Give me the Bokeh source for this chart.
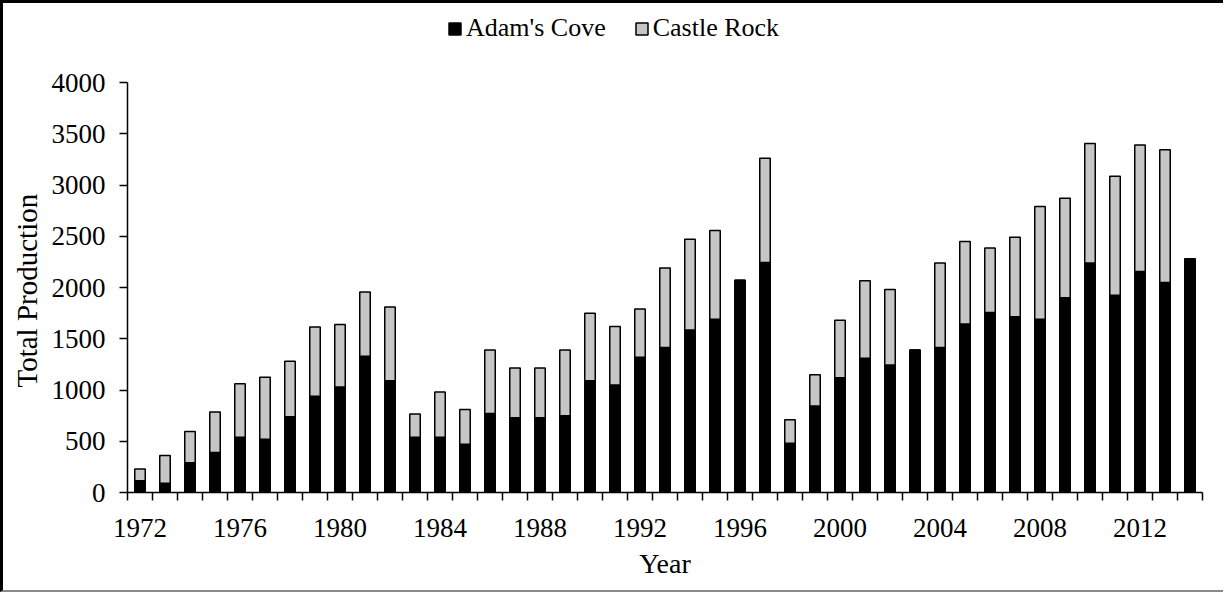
from bokeh.plotting import figure
from bokeh.models import ColumnDataSource, Range1d, FixedTicker, Legend, LegendItem, Title
from bokeh.embed import file_html
from bokeh.resources import INLINE

years = list(range(1972, 2015))
adams_cove = [115, 90, 290, 390, 540, 520, 740, 940, 1030, 1330, 1090,
              540, 540, 470, 770, 730, 730, 750, 1090, 1050, 1320,
              1415, 1585, 1690, 2070, 2245, 480, 845, 1120, 1310, 1245,
              1390, 1415, 1645, 1755, 1715, 1690, 1900, 2240, 1925, 2155, 2050, 2280]
castle_rock = [115, 270, 305, 395, 520, 605, 540, 675, 610, 625, 720,
               225, 440, 340, 620, 485, 485, 640, 660, 570, 470,
               775, 885, 865, 0, 1015, 230, 305, 560, 755, 735,
               0, 825, 805, 630, 775, 1100, 970, 1165, 1160, 1235, 1295, 0]
series_names = ["Adam's Cove", "Castle Rock"]
series_colors = ["#000000", "#c6c6c6"]
label_years = [1972, 1976, 1980, 1984, 1988, 1992, 1996, 2000, 2004, 2008, 2012]
y_ticks = [0, 500, 1000, 1500, 2000, 2500, 3000, 3500, 4000]

FONT = "Liberation Serif"

# layout: frame extends up to hold the legend; axis drawn only 0..4000
MB_TOP, MB_BOTTOM, H = 7, 103, 592
frame_h = H - MB_TOP - MB_BOTTOM
y_end = 4000 * frame_h / 410.0

source = ColumnDataSource(data=dict(year=years, adams=adams_cove, castle=castle_rock))

p = figure(width=1223, height=H, output_backend="svg", toolbar_location=None,
           x_range=Range1d(years[0] - 0.5, years[-1] + 0.5), y_range=Range1d(0, y_end),
           min_border_left=124, min_border_right=24, min_border_top=MB_TOP, min_border_bottom=MB_BOTTOM,
           background_fill_color="white", border_fill_color="white",
           styles={"border-left": "3px solid black", "border-top": "3px solid black",
                   "border-bottom": "2px solid #8a8a8a", "box-sizing": "border-box"})
p.outline_line_color = None
p.xgrid.visible = False
p.ygrid.visible = False

rs = p.vbar_stack(["adams", "castle"], x="year", width=0.42, source=source,
                  fill_color=series_colors, line_color="black", line_width=1.5)

legend = Legend(items=[LegendItem(label=series_names[0], renderers=[rs[0]]),
                       LegendItem(label=series_names[1], renderers=[rs[1]])],
                orientation="horizontal", location=(320, 449))
legend.glyph_width = 15
legend.glyph_height = 15
legend.label_text_font = FONT
legend.label_text_font_size = "26px"
legend.label_text_color = "black"
legend.label_standoff = 4
legend.spacing = 28
legend.padding = 0
legend.margin = 0
legend.border_line_color = None
legend.background_fill_alpha = 0
p.add_layout(legend, "center")

xa = p.xaxis[0]
xa.ticker = FixedTicker(ticks=label_years, minor_ticks=[y - 0.5 for y in years] + [years[-1] + 0.5])
xa.major_tick_out = 0
xa.major_tick_in = 0
xa.minor_tick_out = 8
xa.minor_tick_in = 0
xa.minor_tick_line_color = "black"
xa.minor_tick_line_width = 1.5
xa.axis_line_width = 1.5
xa.axis_line_color = "black"
xa.major_label_text_font = FONT
xa.major_label_text_font_size = "27px"
xa.major_label_text_color = "black"
xa.major_label_standoff = 18
xa.axis_label = "Year"
xa.axis_label_text_font = FONT
xa.axis_label_text_font_size = "28px"
xa.axis_label_text_font_style = "normal"
xa.axis_label_text_color = "black"
xa.axis_label_standoff = 8

ya = p.yaxis[0]
ya.ticker = FixedTicker(ticks=y_ticks)
ya.bounds = (0, 4000)
ya.major_tick_out = 8
ya.major_tick_in = 0
ya.minor_tick_out = 0
ya.minor_tick_in = 0
ya.major_tick_line_width = 1.5
ya.axis_line_width = 1.5
ya.axis_line_color = "black"
ya.major_label_text_font = FONT
ya.major_label_text_font_size = "27px"
ya.major_label_text_color = "black"
ya.major_label_standoff = 14

ytitle = Title(text="Total Production", align="left", offset=105,
               text_font=FONT, text_font_size="29px", text_font_style="normal",
               text_color="black", standoff=11)
p.add_layout(ytitle, "left")

open("out.html", "w").write(file_html(p, INLINE))
